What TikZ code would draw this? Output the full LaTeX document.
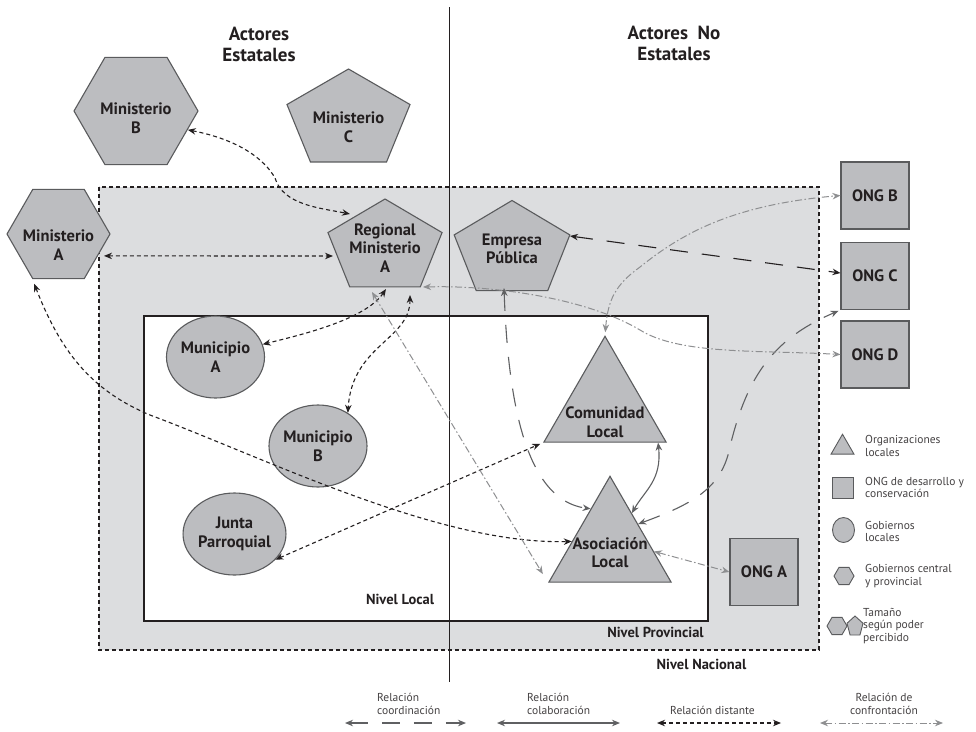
\documentclass[tikz,border=0pt]{standalone}
\usepackage{fontspec}
\setmainfont{PT Sans}
\usetikzlibrary{shapes.geometric, arrows.meta}
\definecolor{fondo}{HTML}{DCDDDF}
\definecolor{relleno}{HTML}{BCBDC0}
\definecolor{borde}{HTML}{5A5B5D}
\definecolor{tinta}{HTML}{231F20}
\definecolor{gris}{HTML}{5F6062}
\definecolor{grisclaro}{HTML}{8E8F91}

\begin{document}
\begin{tikzpicture}[x=1pt, y=-1pt, >={Stealth[length=8pt,width=6.5pt]},
    forma/.style={draw=borde, fill=relleno, line width=1.1pt},
    etiq/.style={font=\bfseries\fontsize{16.5}{18.5}\selectfont, align=center, text=tinta, inner sep=0pt},
    hexa/.style={forma, regular polygon, regular polygon sides=6, inner sep=0pt},
    tria/.style={forma, regular polygon, regular polygon sides=3, inner sep=0pt},
    elip/.style={forma, ellipse, etiq},
    caja/.style={forma, etiq, minimum width=68pt, minimum height=67pt},
    titulo/.style={font=\bfseries\fontsize{19}{21}\selectfont, align=center, text=tinta},
    nivel/.style={font=\bfseries\fontsize{14.5}{17}\selectfont, text=tinta, inner sep=0pt},
    leyenda/.style={font=\fontsize{11.5}{12.5}\selectfont, align=left, anchor=west, text=tinta!85, inner sep=0pt},
    distante/.style={<->, tinta, line width=1.1pt, dash pattern=on 4pt off 3pt},
    coordina/.style={<->, line width=1.1pt, dash pattern=on 18pt off 14pt},
    colabora/.style={<->, gris, line width=1.1pt},
    confronta/.style={<->, grisclaro, line width=1pt, dash pattern=on 7pt off 2.5pt on 1.5pt off 2.5pt}]

    \useasboundingbox (0,0) rectangle (976,731);
    \fill[white] (0,0) rectangle (976,731);

    \draw[tinta, fill=fondo, line width=1.1pt, dash pattern=on 4pt off 3pt] (99,187) rectangle (819,650);
    \draw[tinta, fill=white, line width=1.4pt] (144,316) rectangle (708,621);
    \draw[tinta, line width=1.3pt] (449.5,7) -- (449.5,682);

    \node[titulo] (T1) at (259,44) {Actores\\Estatales};
    \node[titulo] (T2) at (674,43) {Actores\ \ No\\Estatales};

    \node[hexa, minimum size=124pt] (MB) at (136,111) {};
    \node[etiq] (LMB) at (136,118) {Ministerio\\B};
    \draw[forma, shift={(348.5,120.4)}] (-90:64.7 and 51.4) -- (-18:64.7 and 51.4) -- (54:64.7 and 51.4) -- (126:64.7 and 51.4) -- (198:64.7 and 51.4) -- cycle;
    \node[etiq] (MC) at (348.5,127) {Ministerio\\C};
    \node[hexa, minimum size=103pt] (MA) at (58.5,234) {};
    \node[etiq] (LMA) at (58.5,245) {Ministerio\\A};
    \draw[forma, shift={(385,247.6)}] (-90:60 and 48.6) -- (-18:60 and 48.6) -- (54:60 and 48.6) -- (126:60 and 48.6) -- (198:60 and 48.6) -- cycle;
    \node[etiq] (RMA) at (385,248) {Regional\\Ministerio\\A};
    \draw[forma, shift={(512,250.3)}] (-90:60.8 and 49.8) -- (-18:60.8 and 49.8) -- (54:60.8 and 49.8) -- (126:60.8 and 49.8) -- (198:60.8 and 49.8) -- cycle;
    \node[etiq] (EP) at (512,249) {Empresa\\Pública};

    \node[elip, minimum width=85pt, minimum height=82pt] (MuA) at (215.5,357) {Municipio\\A};
    \node[elip, minimum width=96pt, minimum height=82pt] (MuB) at (318,446) {Municipio\\B};
    \node[elip, minimum width=95pt, minimum height=82pt] (JP) at (234.5,534) {Junta\\Parroquial};

    \node[tria, minimum size=141pt] (CL) at (605,406.8) {};
    \node[etiq] (LCL) at (605,422) {Comunidad\\Local};
    \node[tria, minimum size=141pt] (AL) at (610,546.8) {};
    \node[etiq] (LAL) at (610,552.5) {Asociación\\Local};

    \node[caja] (OB) at (875,195.5) {ONG B};
    \node[caja] (OC) at (875,276) {ONG C};
    \node[caja] (OD) at (875,354.5) {ONG D};
    \node[caja] (OA) at (764,572) {ONG A};

    \node[nivel] (N1) at (400,599) {Nivel Local};
    \node[nivel] (N2) at (655.5,632) {Nivel Provincial};
    \node[nivel] (N3) at (701.5,664) {Nivel Nacional};

    \draw[distante] (MB.-20) .. controls (240,140) and (265,160) .. (275,178) .. controls (283,205) and (320,208) .. ([shift={(-35,-34)}]RMA.center);
    \draw[distante, shorten <=6pt] (MA.-29) -- ([shift={(-52,8)}]RMA.center);
    \draw[distante, shorten <=5pt] (MA.-120) .. controls (60,350) and (90,390) .. (150,415) .. controls (270,460) and (440,545) .. (AL.172);
    \draw[distante] ([shift={(1,41)}]RMA.center) .. controls (365,320) and (300,335) .. (MuA.15);
    \draw[distante] ([shift={(25,47)}]RMA.center) .. controls (410,340) and (352,345) .. (MuB.48);
    \draw[distante, shorten >=3pt] (JP.-32) -- (CL.corner 2);

    \draw[colabora] (CL.-34) .. controls (662,480) and (645,490) .. (AL.57);

    \draw[coordina, tinta] ([shift={(58,-13)}]EP.center) -- ([yshift=3pt]OC.west);
    \draw[coordina, gris] ([shift={(-8,39)}]EP.center) .. controls (508,400) and (525,500) .. (AL.117);
    \draw[coordina, gris, shorten >=2pt] (AL.39) .. controls (690,505) and (718,490) .. (728,455) .. controls (745,380) and (770,340) .. (OC.south west);

    \draw[confronta, shorten >=10pt] ([shift={(-13,44)}]RMA.center) -- (AL.corner 2);
    \draw[confronta] ([shift={(38,39)}]RMA.center) .. controls (500,285) and (590,300) .. (640,330) .. controls (680,355) and (760,350) .. (OD.west);
    \draw[confronta, shorten <=3pt] (CL.corner 1) .. controls (608,300) and (615,285) .. (640,267) .. controls (680,235) and (730,205) .. (OB.west);
    \draw[confronta] (AL.-6) -- (OA.west);

    \node[tria, minimum size=26.5pt, line width=0.9pt] (LgO) at (842.5,447.5) {};
    \node[leyenda] (LLgO) at (865,446) {Organizaciones\\locales};
    \node[forma, minimum size=21pt, inner sep=0pt, line width=0.9pt] (LgN) at (842.5,487.5) {};
    \node[leyenda] (LLgN) at (865,487.5) {ONG de desarrollo y\\conservación};
    \node[elip, minimum width=22pt, minimum height=25pt, line width=0.9pt] (LgG) at (843.5,530) {};
    \node[leyenda] (LLgG) at (865,531.5) {Gobiernos\\locales};
    \node[hexa, minimum size=20pt, line width=0.9pt] (LgC) at (844,576) {};
    \node[leyenda] (LLgC) at (865,576) {Gobiernos central\\y provincial};
    \node[hexa, minimum size=20pt, line width=0.9pt] (LgT) at (837,626) {};
    \draw[forma, line width=0.9pt, shift={(855,626.5)}] (-90:8.4 and 10.5) -- (-18:8.4 and 10.5) -- (54:8.4 and 10.5) -- (126:8.4 and 10.5) -- (198:8.4 and 10.5) -- cycle;
    \node[leyenda] (LLgT) at (863,626) {Tamaño\\según poder\\percibido};

    \coordinate (R1a) at (345,723);
    \coordinate (R1b) at (466,723);
    \coordinate (R2a) at (497,723);
    \coordinate (R2b) at (620,723);
    \coordinate (R3a) at (657,723);
    \coordinate (R3b) at (781,723);
    \coordinate (R4a) at (820,723);
    \coordinate (R4b) at (943,723);
    \draw[coordina, gris] (R1a) -- (R1b);
    \draw[colabora] (R2a) -- (R2b);
    \draw[distante] (R3a) -- (R3b);
    \draw[confronta] (R4a) -- (R4b);
    \node[leyenda] (LR1) at (377,704) {Relación\\coordinación};
    \node[leyenda] (LR2) at (527,704) {Relación\\colaboración};
    \node[leyenda] (LR3) at (670,710) {Relación distante};
    \node[leyenda, align=center, anchor=center] (LR4) at (884,704) {Relación de\\confrontación};
\end{tikzpicture}
\end{document}
